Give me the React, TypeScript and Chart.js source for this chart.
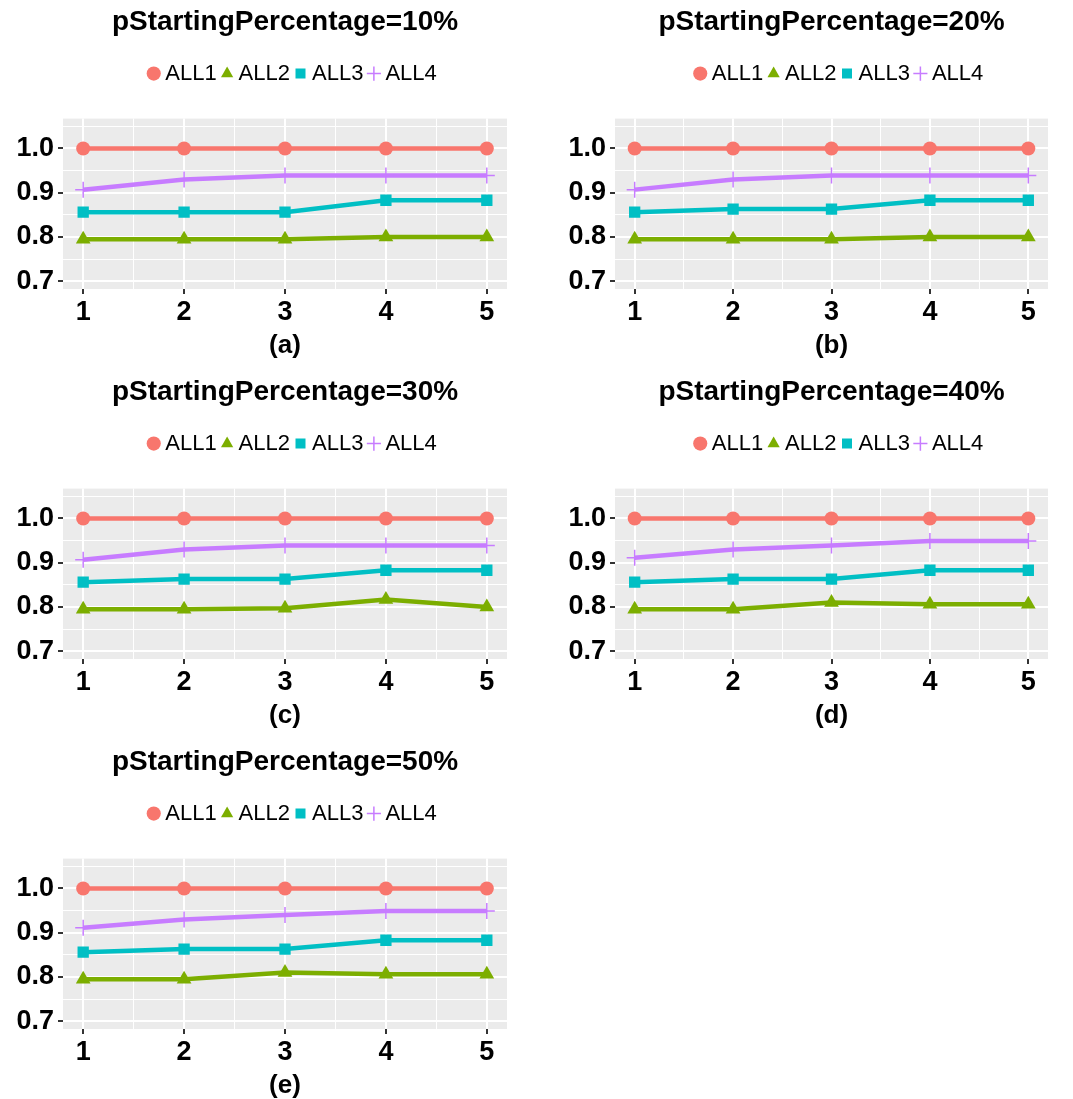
import React, { useEffect, useRef } from 'react';
import { Chart, registerables } from 'chart.js';

Chart.register(...registerables);

// ---- data ----
const steps = [1, 2, 3, 4, 5];
const seriesNames = ['ALL1', 'ALL2', 'ALL3', 'ALL4'];
const seriesColors = ['#F8766D', '#7CAE00', '#00BFC4', '#C77CFF'];
const seriesPointStyles = ['circle', 'triangle', 'rect', 'cross'];
const panelTitles = [
  'pStartingPercentage=10%',
  'pStartingPercentage=20%',
  'pStartingPercentage=30%',
  'pStartingPercentage=40%',
  'pStartingPercentage=50%',
];
const panelCaptions = ['(a)', '(b)', '(c)', '(d)', '(e)'];
const yMajorTicks = [0.7, 0.8, 0.9, 1.0];
const xTickLabels = ['1', '2', '3', '4', '5'];

// panel (a) pStartingPercentage=10%
const ALL1_a = [1.0, 1.0, 1.0, 1.0, 1.0];
const ALL2_a = [0.795, 0.795, 0.795, 0.8, 0.8];
const ALL3_a = [0.856, 0.856, 0.856, 0.883, 0.883];
const ALL4_a = [0.907, 0.93, 0.939, 0.939, 0.939];
// panel (b) pStartingPercentage=20%
const ALL1_b = [1.0, 1.0, 1.0, 1.0, 1.0];
const ALL2_b = [0.795, 0.795, 0.795, 0.8, 0.8];
const ALL3_b = [0.856, 0.863, 0.863, 0.883, 0.883];
const ALL4_b = [0.907, 0.93, 0.939, 0.939, 0.939];
// panel (c) pStartingPercentage=30%
const ALL1_c = [1.0, 1.0, 1.0, 1.0, 1.0];
const ALL2_c = [0.795, 0.795, 0.797, 0.817, 0.8];
const ALL3_c = [0.856, 0.863, 0.863, 0.883, 0.883];
const ALL4_c = [0.907, 0.93, 0.939, 0.939, 0.939];
// panel (d) pStartingPercentage=40%
const ALL1_d = [1.0, 1.0, 1.0, 1.0, 1.0];
const ALL2_d = [0.795, 0.795, 0.81, 0.806, 0.806];
const ALL3_d = [0.856, 0.863, 0.863, 0.883, 0.883];
const ALL4_d = [0.911, 0.93, 0.939, 0.949, 0.949];
// panel (e) pStartingPercentage=50%
const ALL1_e = [1.0, 1.0, 1.0, 1.0, 1.0];
const ALL2_e = [0.795, 0.795, 0.81, 0.806, 0.806];
const ALL3_e = [0.856, 0.863, 0.863, 0.883, 0.883];
const ALL4_e = [0.911, 0.93, 0.94, 0.949, 0.949];

const panelSeries = [
  [ALL1_a, ALL2_a, ALL3_a, ALL4_a],
  [ALL1_b, ALL2_b, ALL3_b, ALL4_b],
  [ALL1_c, ALL2_c, ALL3_c, ALL4_c],
  [ALL1_d, ALL2_d, ALL3_d, ALL4_d],
  [ALL1_e, ALL2_e, ALL3_e, ALL4_e],
];

// ---- styling ----
const FONT = '"Liberation Sans", Arial, Helvetica, sans-serif';
const PANEL_W = 536;
const PANEL_H = 370;
const pointRadii = [7, 8.5, 8, 8];

const isMajorY = (v: number) => yMajorTicks.some((t) => Math.abs(t - v) < 1e-6);
const isMajorX = (v: number) => Math.abs(v - Math.round(v)) < 1e-6;

const panelBg = {
  id: 'panelBg',
  afterLayout(chart: any) {
    const lg = chart.legend;
    if (lg) {
      lg.left += 10;
      lg.right += 10;
    }
  },
  beforeDraw(chart: any) {
    const { ctx, chartArea } = chart;
    if (!chartArea) return;
    ctx.save();
    ctx.fillStyle = '#EBEBEB';
    ctx.fillRect(chartArea.left, chartArea.top, chartArea.right - chartArea.left, chartArea.bottom - chartArea.top);
    ctx.restore();
  },
};

function Panel({ index, col }: { index: number; col: number }) {
  const ref = useRef<HTMLCanvasElement | null>(null);
  useEffect(() => {
    if (!ref.current) return;
    const series = panelSeries[index];
    const datasets = seriesNames.map((name, si) => ({
      label: name,
      data: steps.map((x, i) => ({ x, y: series[si][i] })),
      borderColor: seriesColors[si],
      backgroundColor: seriesColors[si],
      borderWidth: 4.5,
      pointStyle: seriesPointStyles[si],
      pointRadius: pointRadii[si],
      pointBackgroundColor: seriesColors[si],
      pointBorderColor: seriesColors[si],
      pointBorderWidth: si === 3 ? 1.5 : 0,
      tension: 0,
      fill: false,
    }));
    const chart = new Chart(ref.current, {
      type: 'line',
      data: { datasets },
      plugins: [panelBg],
      options: {
        animation: false,
        responsive: false,
        maintainAspectRatio: false,
        layout: { padding: { left: 0, right: col === 0 ? 29 : 25, top: 0, bottom: 0 } },
        plugins: {
          tooltip: { enabled: false },
          title: {
            display: true,
            text: panelTitles[index],
            color: '#000',
            fullSize: false,
            font: { family: FONT, size: 28, weight: 'bold' },
            padding: { top: 5, bottom: 14 },
          },
          subtitle: {
            display: true,
            text: '',
            weight: 500,
            fullSize: false,
            font: { family: FONT, size: 10 },
            padding: { top: 0, bottom: 12 },
          },
          legend: {
            display: true,
            position: 'top',
            fullSize: false,
            labels: {
              usePointStyle: true,
              boxWidth: 1,
              boxHeight: 10,
              padding: 10,
              color: '#000',
              font: { family: FONT, size: 22 },
            },
          },
        },
        scales: {
          x: {
            type: 'linear',
            min: 0.8,
            max: 5.2,
            afterFit: (s: any) => {
              s.height = 81;
            },
            border: { display: false },
            grid: {
              color: '#FFFFFF',
              lineWidth: (c: any) => (c.tick && isMajorX(c.tick.value) ? 2 : 1),
              tickColor: (c: any) => (c.tick && isMajorX(c.tick.value) ? '#333333' : 'rgba(0,0,0,0)'),
              tickLength: 5,
              tickWidth: 2,
              drawTicks: true,
            },
            ticks: {
              stepSize: 0.5,
              includeBounds: false,
              autoSkip: false,
              maxRotation: 0,
              padding: 2,
              color: '#000',
              font: { family: FONT, size: 27, weight: 'bold' },
              callback: (v: any) => (isMajorX(Number(v)) ? xTickLabels[Math.round(Number(v)) - 1] : ''),
            },
            title: {
              display: true,
              text: panelCaptions[index],
              color: '#000',
              font: { family: FONT, size: 26, weight: 'bold' },
              padding: { top: 0, bottom: 9 },
            },
          },
          y: {
            type: 'linear',
            min: 0.6825,
            max: 1.0675,
            afterFit: (s: any) => {
              s.width = col === 0 ? 63 : 78;
            },
            border: { display: false },
            grid: {
              color: '#FFFFFF',
              lineWidth: (c: any) => (c.tick && isMajorY(c.tick.value) ? 2 : 1),
              tickColor: (c: any) => (c.tick && isMajorY(c.tick.value) ? '#333333' : 'rgba(0,0,0,0)'),
              tickLength: 5,
              tickWidth: 2,
              drawTicks: true,
            },
            ticks: {
              stepSize: 0.05,
              includeBounds: false,
              autoSkip: false,
              padding: 4,
              color: '#000',
              font: { family: FONT, size: 27, weight: 'bold' },
              callback: (v: any) => (isMajorY(Number(v)) ? Number(v).toFixed(1) : ''),
            },
          },
        },
      } as any,
    });
    return () => chart.destroy();
  }, [index, col]);

  const row = Math.floor(index / 2);
  return (
    <div
      style={{
        position: 'absolute',
        left: col === 0 ? 0 : 537,
        top: row * PANEL_H,
        width: PANEL_W,
        height: PANEL_H,
      }}
    >
      <canvas ref={ref} width={PANEL_W} height={PANEL_H} style={{ width: PANEL_W, height: PANEL_H, display: 'block' }} />
    </div>
  );
}

export default function App() {
  return (
    <div
      style={{
        position: 'fixed',
        left: 0,
        top: 0,
        width: 1073,
        height: 1099,
        overflow: 'hidden',
        background: '#ffffff',
      }}
    >
      {panelTitles.map((_, i) => (
        <Panel key={i} index={i} col={i % 2} />
      ))}
    </div>
  );
}
